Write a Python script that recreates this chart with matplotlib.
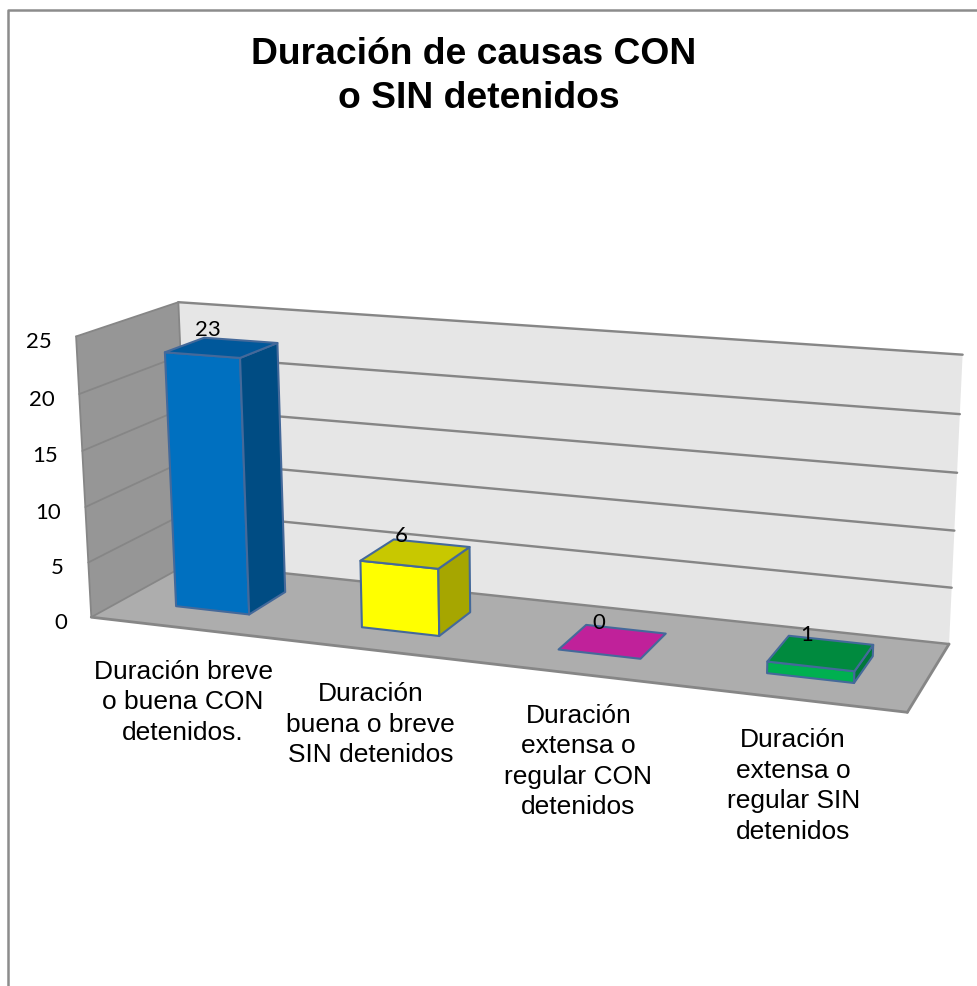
import numpy as np
import matplotlib
matplotlib.use("Agg")
import matplotlib.pyplot as plt

# Datos del grafico
titulo = ["Duración de causas CON", "o SIN detenidos"]
categorias = [
    ["Duración breve", "o buena CON", "detenidos."],
    ["Duración", "buena o breve", "SIN detenidos"],
    ["Duración", "extensa o", "regular CON", "detenidos"],
    ["Duración", "extensa o", "regular SIN", "detenidos"],
]
valores = [23, 6, 0, 1]
ticks = [0, 5, 10, 15, 20, 25]

# Colores de cada barra: frente, tapa, lateral
col_frente = ["#0070C0", "#FFFF00", "#C0219A", "#00B050"]
col_tapa = ["#00589B", "#C8C800", "#C0219A", "#008A3E"]
col_lado = ["#004C83", "#A6A600", "#A01C80", "#00783A"]
col_borde = "#44699A"
col_gris = "#868686"

# Esquinas de la caja 3D en pixeles: (categoria, valor, profundidad) -> (x, y)
mundo = np.array([
    [0, 0, 0], [0, 25, 0], [0, 0, 1], [0, 25, 1],
    [4, 0, 1], [4, 25, 1], [4, 0, 0],
], dtype=float)
pantalla = np.array([
    [90.7, 618.3], [76.7, 337.3], [190, 564], [177.7, 303.3],
    [949, 645], [962.7, 355.7], [907.3, 713.3],
])

# Matriz de camara, ajustada por minimos cuadrados
filas = []
lado_der = []
for (x, v, d), (u, w) in zip(mundo, pantalla):
    filas.append([x, v, d, 1, 0, 0, 0, 0, -u * x, -u * v, -u * d])
    filas.append([0, 0, 0, 0, x, v, d, 1, -w * x, -w * v, -w * d])
    lado_der += [u, w]
sol = np.linalg.lstsq(np.array(filas), np.array(lado_der), rcond=None)[0]
P = np.append(sol, 1).reshape(3, 4)


def proy(x, v, d):
    h = P @ np.array([x, v, d, 1.0])
    return h[0] / h[2], h[1] / h[2]


def cara(puntos, color, borde=None, lw=0, z=1):
    xy = [proy(*p) for p in puntos]
    ax.fill([a for a, b in xy], [b for a, b in xy], facecolor=color,
            edgecolor=borde if borde else color, linewidth=lw, zorder=z,
            joinstyle="round")


def linea(p1, p2, color=col_gris, lw=2.0, z=2):
    a = proy(*p1)
    b = proy(*p2)
    ax.plot([a[0], b[0]], [a[1], b[1]], color=color, linewidth=lw * 0.72, zorder=z,
            solid_capstyle="round")


fig = plt.figure(figsize=(9.77, 9.87), dpi=100)
ax = fig.add_axes([0, 0, 1, 1])
ax.set_xlim(0, 977)
ax.set_ylim(987, 0)
ax.axis("off")

# Marco exterior (solo arriba e izquierda)
ax.plot([7.5, 7.5, 977], [987, 10.5, 10.5], color="#8C8C8C", linewidth=1.8, zorder=1)

# Paredes y piso
nc = len(categorias)
tope = ticks[-1]
cara([(0, 0, 0), (0, tope, 0), (0, tope, 1), (0, 0, 1)], "#969696", z=1)
cara([(0, 0, 1), (0, tope, 1), (nc, tope, 1), (nc, 0, 1)], "#E6E6E6", z=1)
cara([(0, 0, 0), (0, 0, 1), (nc, 0, 1), (nc, 0, 0)], "#ADADAD", z=1)

# Lineas de division
for t in ticks:
    linea((0, t, 0), (0, t, 1), lw=1.8)
    linea((0, t, 1), (nc, t, 1), lw=2.4)
linea((0, 0, 0), (0, tope, 0), lw=1.8)
linea((0, 0, 1), (0, tope, 1), lw=1.8)
linea((nc, 0, 1), (nc, 0, 0), lw=2.8)
linea((0, 0, 0), (nc, 0, 0), lw=2.8)

# Etiquetas del eje de valores
for t in ticks:
    px, py = proy(0, t, 0)
    ax.text(px - 24.5, py + 10.5, str(t), ha="right", va="baseline", fontsize=16,
            family="Lato", color="black", zorder=6)

# Barras
ancho = 0.4
d0, d1 = 0.3, 0.7
for i, val in enumerate(valores):
    x0 = i + (1 - ancho) / 2
    x1 = x0 + ancho
    if val > 0:
        cara([(x0, 0, d0), (x1, 0, d0), (x1, val, d0), (x0, val, d0)], col_frente[i], col_borde, 1.5, 3)
        cara([(x1, 0, d0), (x1, 0, d1), (x1, val, d1), (x1, val, d0)], col_lado[i], col_borde, 1.5, 3)
    cara([(x0, val, d0), (x1, val, d0), (x1, val, d1), (x0, val, d1)], col_tapa[i], col_borde, 1.5, 3)
    # Valor sobre la barra
    px, py = proy(i + 0.5, val, 0.5)
    ax.text(px - 14, py - 13, str(val), ha="center", va="baseline", fontsize=16,
            family="Lato", color="black", zorder=6)

# Etiquetas de categoria, linea por linea
ajuste = [(0, 50), (-4.5, 50), (0, 48), (-1, 47)]
for i, lineas in enumerate(categorias):
    px, py = proy(i + 0.5, 0, 0)
    for k, texto in enumerate(lineas):
        ax.text(px + ajuste[i][0], py + ajuste[i][1] + k * 30.5, texto, ha="center",
                va="baseline", fontsize=19, family="Liberation Sans", color="black", zorder=6)

# Titulo
titulo_x = [474, 478.5]
titulo_y = [64, 107.5]
for k, texto in enumerate(titulo):
    ax.text(titulo_x[k], titulo_y[k], texto, ha="center", va="baseline", fontsize=26.8,
            fontweight="bold", family="Liberation Sans", color="black", zorder=6)

fig.savefig("out.png", dpi=100)
